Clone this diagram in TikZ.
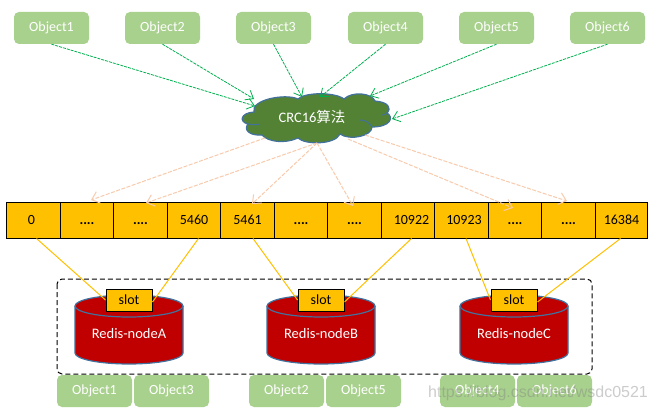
\documentclass[tikz,border=0pt]{standalone}
\usepackage{fontspec}
\setmainfont{Carlito}
\newfontfamily\cjk{Noto Sans CJK SC}
\newfontfamily\wmfont{Liberation Sans}
\usetikzlibrary{arrows.meta}
\definecolor{objgreen}{HTML}{A9D18E}
\definecolor{cloudgreen}{HTML}{548235}
\definecolor{edgeblue}{HTML}{41719C}
\definecolor{redis}{HTML}{C00000}
\definecolor{slotyellow}{HTML}{FFC000}
\definecolor{arrowgreen}{HTML}{00B050}
\definecolor{arrowpeach}{HTML}{F8CBAD}
\tikzset{
  base/.style={font=\fontsize{14}{16}\selectfont},
  objbox/.style={base,fill=objgreen,rounded corners=5,minimum width=75,minimum height=32,inner sep=0,text=white},
  cellbox/.style={base,draw=black,line width=1,fill=slotyellow,minimum height=36,inner sep=0,text=black},
  slotbox/.style={cellbox,minimum width=46,minimum height=22},
  hasharrow/.style={arrowgreen,line width=.8,dash pattern=on 3 off 1,-{Straight Barb[length=7,width=11,line width=.8]}},
  peacharrow/.style={arrowpeach,line width=1,dash pattern=on 4 off 1.5,-{Straight Barb[length=7,width=12,line width=1]}},
  slotline/.style={slotyellow,line width=1},
  cloudshape/.style={fill=cloudgreen,draw=edgeblue,line width=1.2},
  drum/.style={fill=redis,draw=edgeblue,line width=1.2},
}
\newcommand{\cellnode}[5]{% name, left, right, text shift x2, text
  \pgfmathsetmacro{\cmid}{(#2+#3)/2}
  \pgfmathsetmacro{\cwid}{#3-#2}
  \node[cellbox,minimum width=\cwid,anchor=center] (#1) at (\cmid,220) {\hspace*{#4pt}\raisebox{-2.5pt}{\vphantom{0}#5}};
}
\newcommand{\drumshape}[2]{% left x, name
  \pgfmathsetmacro{\dright}{#1+108}
  \draw[drum] (#1,306) -- (#1,353) arc[x radius=54,y radius=11,start angle=180,end angle=0] -- (\dright,306) arc[x radius=54,y radius=11,start angle=0,end angle=-180] -- cycle;
  \draw[edgeblue,line width=1.2] (#1,306) arc[x radius=54,y radius=11,start angle=180,end angle=0];
}
\begin{document}
\begin{tikzpicture}[x=1pt,y=-1pt]
\useasboundingbox (0,0) rectangle (653,412);
\fill[white] (0,0) rectangle (653,412);

% top objects
\node[objbox] (o1) at (51.5,28) {Object1};
\node[objbox] (o2) at (162.5,28) {Object2};
\node[objbox] (o3) at (273.5,28) {Object3};
\node[objbox] (o4) at (385.5,28) {Object4};
\node[objbox] (o5) at (496.5,28) {Object5};
\node[objbox] (o6) at (607.5,28) {Object6};

% cloud
\draw[cloudshape] (248,124) .. controls (239,122) and (240,113) .. (254,112)
  .. controls (250,100) and (285,93) .. (298,99)
  .. controls (305,92) and (335,92) .. (344,99)
  .. controls (352,91) and (372,93) .. (375,101)
  .. controls (388,102) and (392,108) .. (387,113)
  .. controls (394,117) and (391,127) .. (372,127)
  .. controls (372,136) and (350,141) .. (340,134)
  .. controls (335,145) and (305,145) .. (298,138)
  .. controls (285,144) and (268,142) .. (262,135)
  .. controls (250,136) and (243,130) .. (248,124) -- cycle;
\draw[edgeblue,line width=1] (248,124) .. controls (252,125) and (256,125) .. (260,124);
\draw[edgeblue,line width=1] (360,120) .. controls (365,120) and (369,122) .. (372,127);
\draw[edgeblue,line width=1] (382,115) .. controls (384,115) and (386,114) .. (387,113);
\node[font=\fontsize{14.5}{16}\selectfont,text=white,inner sep=0] (crc) at (312,117) {CRC16{\cjk 算法}};

% cloud anchors
\coordinate (in1) at (255,106);
\coordinate (in2) at (254,99);
\coordinate (in3) at (302,97);
\coordinate (in4) at (320,97);
\coordinate (in5) at (370,96);
\coordinate (in6) at (392,119);
\coordinate (out1) at (265,138);
\coordinate (out2) at (317,143);
\coordinate (out5) at (348,139);
\coordinate (out6) at (365,135);

\draw[hasharrow] (o1.south) -- (in1);
\draw[hasharrow] (o2.south) -- (in2);
\draw[hasharrow] (o3.south) -- (in3);
\draw[hasharrow] (o4.south) -- (in4);
\draw[hasharrow] (o5.south) -- (in5);
\draw[hasharrow] (o6.south) -- (in6);

% slot bar
\cellnode{c1}{6.5}{60.5}{-4}{0}
\cellnode{c2}{60.5}{113.5}{0}{\textbf{....}}
\cellnode{c3}{113.5}{167.5}{0}{\textbf{....}}
\cellnode{c4}{167.5}{220.5}{0}{5460}
\cellnode{c5}{220.5}{274.5}{0}{5461}
\cellnode{c6}{274.5}{327.5}{0}{\textbf{....}}
\cellnode{c7}{327.5}{381.5}{0}{\textbf{....}}
\cellnode{c8}{381.5}{434.5}{7}{10922}
\cellnode{c9}{434.5}{488.5}{5}{10923}
\cellnode{c10}{488.5}{541.5}{0}{\textbf{....}}
\cellnode{c11}{541.5}{595.5}{0}{\textbf{....}}
\cellnode{c12}{595.5}{647.5}{0}{16384}

% peach arrows
\coordinate (tg1) at (91,200);
\coordinate (tg2) at (146,203);
\coordinate (tg3) at (252,204);
\coordinate (tg4) at (353,206);
\coordinate (tg5) at (513,208);
\coordinate (tg6) at (567,201);
\draw[peacharrow] (out1) -- (tg1);
\draw[peacharrow] (out2) -- (tg2);
\draw[peacharrow] (out2) -- (tg3);
\draw[peacharrow] (out2) -- (tg4);
\draw[peacharrow] (out5) -- (tg5);
\draw[peacharrow] (out6) -- (tg6);

% cluster frame
\draw[black,line width=1,dash pattern=on 5 off 3,rounded corners=5] (57,279) rectangle (592,374);

% drums
\drumshape{75}{A}
\drumshape{267}{B}
\drumshape{460}{C}
\node[font=\fontsize{14.5}{16}\selectfont,text=white,inner sep=0] (ra) at (129,334) {Redis-nodeA};
\node[font=\fontsize{14.5}{16}\selectfont,text=white,inner sep=0] (rb) at (321,334) {Redis-nodeB};
\node[font=\fontsize{14.5}{16}\selectfont,text=white,inner sep=0] (rc) at (514,334) {Redis-nodeC};

% slots
\node[slotbox] (sa) at (129,300) {slot};
\node[slotbox] (sb) at (321,300) {slot};
\node[slotbox] (sc) at (514,300) {slot};

\draw[slotline] ([xshift=3]c1.south) -- (sa.west);
\draw[slotline] ([xshift=4.5]c4.south) -- ([yshift=-2]sa.east);
\draw[slotline] ([xshift=5.5]c5.south) -- (sb.west);
\draw[slotline] ([xshift=3.5]c8.south) -- ([yshift=-2]sb.east);
\draw[slotline] ([xshift=4.5]c9.south) -- (sc.west);
\draw[slotline] ([xshift=-1]c12.south) -- ([yshift=-2]sc.east);

% bottom objects
\node[objbox] (b1) at (94.5,391) {Object1};
\node[objbox] (b3) at (171.5,391) {Object3};
\node[objbox] (b2) at (286.5,391) {Object2};
\node[objbox] (b5) at (363.5,391) {Object5};
\node[objbox] (b4) at (477.5,391) {Object4};
\node[objbox] (b6) at (554.5,391) {Object6};

% watermark
\node[font=\wmfont\fontsize{16}{18}\selectfont,text=gray,opacity=.4,inner sep=0,anchor=west] (wm) at (428,393) {https://blog.csdn.net/wsdc0521};
\end{tikzpicture}
\end{document}
